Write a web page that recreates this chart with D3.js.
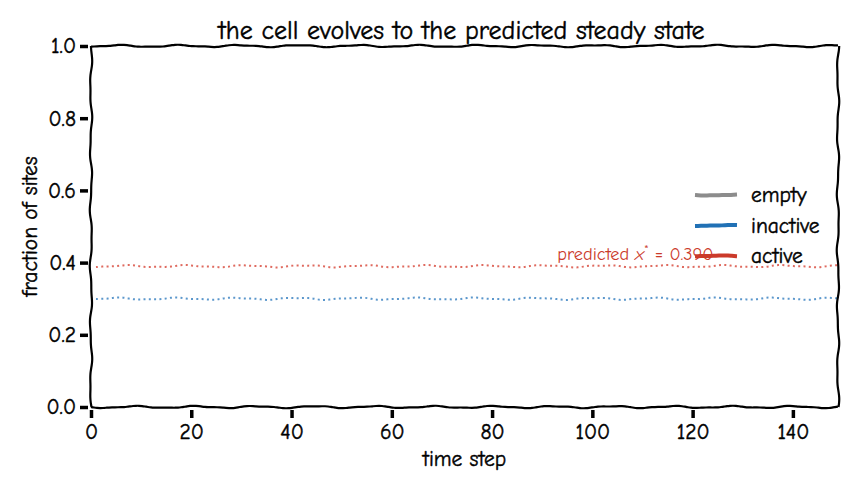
<!DOCTYPE html>
<html><head><meta charset="utf-8">
<script src="https://cdn.jsdelivr.net/npm/d3@7"></script>
<style>
body{margin:0;background:#fff;}
text{font-family:"Humor Sans","xkcd Script","Comic Sans MS","Comic Neue","Lato",sans-serif;}
.ink{stroke:#000;stroke-width:0.45px;fill:#000;}
</style></head>
<body><svg id="c" width="860" height="490"></svg>
<script>
// ---- data ----
const seriesNames = ["empty", "inactive", "active"];
const seriesColors = ["#8c8c8c", "#2171b5", "#cb3a2a"];
// simulated fractions per time step (no visible trajectory in the reference)
const emptyFrac = [];
const inactiveFrac = [];
const activeFrac = [];
const predictedInactive = 0.300;
const predictedActive = 0.390;
const xTicks = [0, 20, 40, 60, 80, 100, 120, 140];
const yTicks = [0.0, 0.2, 0.4, 0.6, 0.8, 1.0];
const xDomain = [0, 149];
const yDomain = [0, 1];

const svg = d3.select("#c");
const M = {l: 91, r: 838, t: 46, b: 407};
const x = d3.scaleLinear().domain(xDomain).range([M.l, M.r]);
const y = d3.scaleLinear().domain(yDomain).range([M.b, M.t]);

// xkcd-like wobble (deterministic)
function wobble(pts, amp, seed) {
  const out = [];
  let dist = 0;
  for (let i = 0; i < pts.length - 1; i++) {
    const [x0, y0] = pts[i], [x1, y1] = pts[i + 1];
    const L = Math.hypot(x1 - x0, y1 - y0);
    const n = Math.max(1, Math.ceil(L / 3));
    const nx = -(y1 - y0) / L, ny = (x1 - x0) / L;
    for (let k = 0; k <= n; k++) {
      if (k === n && i < pts.length - 2) continue;
      const t = k / n, d = dist + t * L;
      const off = amp * (0.7 * Math.sin(d / 9.5 + seed) + 0.3 * Math.sin(d / 4.3 + seed * 2.1));
      out.push([x0 + t * (x1 - x0) + nx * off, y0 + t * (y1 - y0) + ny * off]);
    }
    dist += L;
  }
  return out;
}
const lineGen = d3.line().curve(d3.curveBasis);

// title
svg.append("text").attr("class", "ink").attr("x", (M.l + M.r) / 2 - 3).attr("y", 39).attr("text-anchor", "middle")
  .attr("font-size", 26).text("the cell evolves to the predicted steady state");

// predicted reference lines
const refs = [
  {v: predictedActive, color: "#df6a5f"},
  {v: predictedInactive, color: "#5b97cc"}
];
refs.forEach((r, i) => {
  const pts = wobble([[x(xDomain[0]) + 5, y(r.v)], [x(xDomain[1]), y(r.v)]], 1.3, 1.5 + i);
  svg.append("path").attr("d", lineGen(pts)).attr("fill", "none")
    .attr("stroke", r.color).attr("stroke-width", 2).attr("stroke-dasharray", "2,3.3");
});

// series trajectories (empty data -> nothing drawn)
const seriesData = [emptyFrac, inactiveFrac, activeFrac];
const trajLine = d3.line().x((d, i) => x(i)).y(d => y(d));
seriesData.forEach((s, i) => {
  if (s.length) svg.append("path").attr("d", trajLine(s)).attr("fill", "none")
    .attr("stroke", seriesColors[i]).attr("stroke-width", 3);
});

// annotation
const ann = svg.append("text").attr("x", x(93)).attr("y", y(predictedActive) - 6)
  .attr("font-size", 18.3).attr("fill", "#cb3a2a");
ann.append("tspan").text("predicted ");
ann.append("tspan").attr("font-style", "italic").text("x");
ann.append("tspan").attr("dy", -7).attr("font-size", 12).text("*");
ann.append("tspan").attr("dy", 7).text(" = " + predictedActive.toFixed(3));

// spines
const spines = [
  [[M.l, M.b], [M.r, M.b]],
  [[M.l, M.t], [M.r, M.t]],
  [[M.l, M.t], [M.l, M.b]],
  [[M.r, M.t], [M.r, M.b]]
];
spines.forEach((s, i) => {
  svg.append("path").attr("d", lineGen(wobble(s, 1.3, i * 1.7))).attr("fill", "none")
    .attr("stroke", "#000").attr("stroke-width", 2.2);
});

// axes
const xAxis = svg.append("g").attr("transform", `translate(0,${M.b + 3})`)
  .call(d3.axisBottom(x).tickValues(xTicks).tickSize(8).tickPadding(6).tickFormat(d3.format("d")));
const yAxis = svg.append("g").attr("transform", `translate(${M.l - 3},0)`)
  .call(d3.axisLeft(y).tickValues(yTicks).tickSize(8).tickPadding(4).tickFormat(d3.format(".1f")));
[xAxis, yAxis].forEach(a => {
  a.attr("font-family", null).attr("font-size", null);
  a.select(".domain").remove();
  a.selectAll(".tick line").attr("stroke", "#000").attr("stroke-width", 3.5);
  a.selectAll(".tick text").attr("class", "ink").attr("font-size", 21.5);
});

// axis labels
svg.append("text").attr("class", "ink").attr("x", (M.l + M.r) / 2).attr("y", 466).attr("text-anchor", "middle")
  .attr("font-size", 21.5).text("time step");
svg.append("text").attr("class", "ink").attr("transform", `translate(37,${(M.t + M.b) / 2}) rotate(-90)`)
  .attr("text-anchor", "middle").attr("font-size", 21.5).text("fraction of sites");

// legend
const leg = svg.append("g");
seriesNames.forEach((n, i) => {
  const yy = 195 + i * 30.5;
  leg.append("path").attr("d", lineGen(wobble([[695, yy], [737, yy]], 0.6, i)))
    .attr("fill", "none").attr("stroke", seriesColors[i]).attr("stroke-width", 4);
  leg.append("text").attr("class", "ink").attr("x", 751).attr("y", yy + 7).attr("font-size", 21.5).text(n);
});
</script></body></html>
